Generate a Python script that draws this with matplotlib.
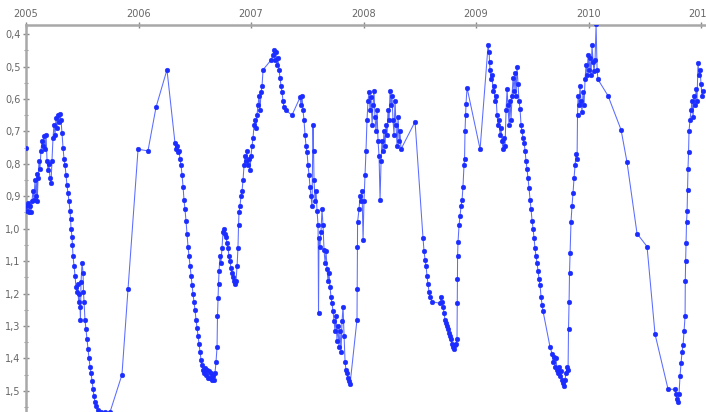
import matplotlib
matplotlib.use("Agg")
import matplotlib.pyplot as plt
import numpy as np
from matplotlib.ticker import FixedLocator, FuncFormatter, MultipleLocator

# decimal years and values
years = [
    2005.000, 2005.003, 2005.009, 2005.018, 2005.027, 2005.036, 2005.044, 2005.053, 2005.062, 2005.071,
    2005.080, 2005.089, 2005.098, 2005.100, 2005.107, 2005.116, 2005.124, 2005.133, 2005.142, 2005.151,
    2005.160, 2005.169, 2005.178, 2005.187, 2005.196, 2005.204, 2005.213, 2005.222, 2005.231, 2005.240,
    2005.249, 2005.258, 2005.267, 2005.276, 2005.284, 2005.293, 2005.302, 2005.311, 2005.320, 2005.329,
    2005.338, 2005.347, 2005.356, 2005.364, 2005.373, 2005.382, 2005.391, 2005.396, 2005.400, 2005.409,
    2005.413, 2005.418, 2005.427, 2005.436, 2005.444, 2005.453, 2005.462, 2005.467, 2005.471, 2005.480,
    2005.484, 2005.489, 2005.498, 2005.507, 2005.511, 2005.516, 2005.524, 2005.533, 2005.542, 2005.551,
    2005.560, 2005.569, 2005.578, 2005.587, 2005.596, 2005.604, 2005.613, 2005.622, 2005.640, 2005.667,
    2005.702, 2005.747, 2005.853, 2005.907, 2005.996, 2006.084, 2006.156, 2006.253,
    2006.324, 2006.333, 2006.342, 2006.351, 2006.360, 2006.369, 2006.378, 2006.387, 2006.396, 2006.404,
    2006.413, 2006.422, 2006.431, 2006.440, 2006.449, 2006.458, 2006.467, 2006.476, 2006.484, 2006.493,
    2006.502, 2006.511, 2006.520, 2006.529, 2006.538, 2006.547, 2006.556, 2006.564, 2006.573, 2006.582,
    2006.591, 2006.600, 2006.609, 2006.618, 2006.627, 2006.636, 2006.644, 2006.653, 2006.662, 2006.671,
    2006.680, 2006.689, 2006.698, 2006.702, 2006.707, 2006.711, 2006.716, 2006.724, 2006.733, 2006.742,
    2006.751, 2006.760, 2006.769, 2006.778, 2006.787, 2006.796, 2006.804, 2006.813, 2006.822, 2006.831,
    2006.840, 2006.849, 2006.858, 2006.867, 2006.876, 2006.884, 2006.889, 2006.893, 2006.902, 2006.911,
    2006.920, 2006.929, 2006.938, 2006.947, 2006.956, 2006.964, 2006.973, 2006.982, 2006.991,
    2007.000, 2007.009, 2007.018, 2007.027, 2007.036, 2007.044, 2007.053, 2007.062, 2007.071, 2007.080,
    2007.089, 2007.098, 2007.107, 2007.178, 2007.196, 2007.204, 2007.213, 2007.222, 2007.231, 2007.240,
    2007.249, 2007.258, 2007.267, 2007.276, 2007.284, 2007.293, 2007.311, 2007.364, 2007.436, 2007.444,
    2007.453, 2007.462, 2007.471, 2007.480, 2007.489, 2007.498, 2007.507, 2007.516, 2007.524, 2007.533,
    2007.542, 2007.551, 2007.556, 2007.560, 2007.569, 2007.578, 2007.587, 2007.596, 2007.600, 2007.604,
    2007.613, 2007.622, 2007.631, 2007.640, 2007.649, 2007.658, 2007.667, 2007.676, 2007.684, 2007.693,
    2007.702, 2007.711, 2007.720, 2007.729, 2007.738, 2007.747, 2007.756, 2007.764, 2007.773, 2007.782,
    2007.791, 2007.800, 2007.809, 2007.818, 2007.827, 2007.836, 2007.844, 2007.853, 2007.862, 2007.871,
    2007.880, 2007.942, 2007.944, 2007.946, 2007.947, 2007.960, 2007.969, 2007.978, 2007.987, 2007.996,
    2008.004, 2008.013, 2008.022, 2008.031, 2008.040, 2008.049, 2008.058, 2008.067, 2008.076, 2008.084,
    2008.093, 2008.102, 2008.111, 2008.120, 2008.129, 2008.138, 2008.147, 2008.156, 2008.164, 2008.173,
    2008.182, 2008.191, 2008.200, 2008.209, 2008.218, 2008.227, 2008.236, 2008.244, 2008.253, 2008.262,
    2008.271, 2008.280, 2008.289, 2008.298, 2008.307, 2008.316, 2008.324, 2008.333, 2008.458,
    2008.529, 2008.538, 2008.547, 2008.556, 2008.564, 2008.573, 2008.582, 2008.591, 2008.609, 2008.680,
    2008.689, 2008.698, 2008.707, 2008.716, 2008.724, 2008.733, 2008.742, 2008.751, 2008.760, 2008.769,
    2008.778, 2008.787, 2008.796, 2008.804, 2008.813, 2008.822, 2008.831, 2008.833, 2008.835, 2008.836,
    2008.840, 2008.849, 2008.858, 2008.867, 2008.876, 2008.884, 2008.893, 2008.898, 2008.902, 2008.907,
    2008.911, 2008.920, 2009.036, 2009.107, 2009.116, 2009.120, 2009.124, 2009.133, 2009.142, 2009.151,
    2009.160, 2009.169, 2009.178, 2009.187, 2009.196, 2009.204, 2009.213, 2009.222, 2009.231, 2009.240,
    2009.249, 2009.258, 2009.267, 2009.276, 2009.284, 2009.293, 2009.302, 2009.311, 2009.320, 2009.329,
    2009.338, 2009.347, 2009.356, 2009.364, 2009.373, 2009.382, 2009.391, 2009.400, 2009.409, 2009.418,
    2009.427, 2009.436, 2009.444, 2009.453, 2009.462, 2009.471, 2009.480, 2009.489, 2009.498, 2009.507,
    2009.516, 2009.524, 2009.533, 2009.542, 2009.551, 2009.560, 2009.569, 2009.578, 2009.587, 2009.596,
    2009.658, 2009.676, 2009.684, 2009.693, 2009.702, 2009.711, 2009.720, 2009.729, 2009.738, 2009.747,
    2009.756, 2009.764, 2009.773, 2009.782, 2009.791, 2009.800, 2009.809, 2009.818, 2009.822, 2009.827,
    2009.831, 2009.836, 2009.844, 2009.853, 2009.862, 2009.871, 2009.880, 2009.889, 2009.898, 2009.902,
    2009.907, 2009.916, 2009.924, 2009.933, 2009.942, 2009.951, 2009.960, 2009.969, 2009.978, 2009.987,
    2009.996, 2010.004, 2010.013, 2010.022, 2010.031, 2010.040, 2010.049, 2010.058, 2010.067, 2010.076,
    2010.084, 2010.173, 2010.289, 2010.342, 2010.431, 2010.520, 2010.591, 2010.707, 2010.769, 2010.778,
    2010.787, 2010.796, 2010.804, 2010.813, 2010.822, 2010.831, 2010.840, 2010.849, 2010.858, 2010.860,
    2010.863, 2010.867, 2010.871, 2010.876, 2010.880, 2010.884, 2010.889, 2010.893, 2010.902, 2010.911,
    2010.920, 2010.929, 2010.938, 2010.947, 2010.956, 2010.964, 2010.973, 2010.982, 2010.991, 2011.000,
    2011.009, 2011.018,
]
values = [
    0.75, 0.93, 0.945, 0.92, 0.95, 0.93, 0.95, 0.915, 0.885, 0.91,
    0.85, 0.90, 0.83, 0.915, 0.845, 0.79, 0.815, 0.76, 0.73, 0.745,
    0.715, 0.755, 0.71, 0.79, 0.82, 0.80, 0.845, 0.86, 0.79, 0.72,
    0.68, 0.71, 0.66, 0.69, 0.65, 0.67, 0.645, 0.665, 0.705, 0.75,
    0.785, 0.805, 0.835, 0.865, 0.89, 0.915, 0.945, 0.97, 1.00, 1.025,
    1.05, 1.085, 1.115, 1.145, 1.18, 1.195, 1.17, 1.225, 1.20, 1.24,
    1.28, 1.165, 1.105, 1.135, 1.195, 1.225, 1.28, 1.31, 1.34, 1.37,
    1.40, 1.425, 1.445, 1.47, 1.495, 1.515, 1.535, 1.545, 1.56, 1.565,
    1.565, 1.565, 1.45, 1.185, 0.755, 0.76, 0.625, 0.51,
    0.735, 0.755, 0.745, 0.765, 0.76, 0.785, 0.805, 0.835, 0.87, 0.91,
    0.94, 0.975, 1.015, 1.055, 1.085, 1.115, 1.145, 1.175, 1.20, 1.225,
    1.25, 1.28, 1.305, 1.33, 1.355, 1.38, 1.405, 1.42, 1.435, 1.445,
    1.43, 1.45, 1.435, 1.46, 1.44, 1.46, 1.445, 1.465, 1.455, 1.465,
    1.445, 1.41, 1.365, 1.27, 1.215, 1.17, 1.13, 1.085, 1.105, 1.06,
    1.01, 1.00, 1.015, 1.025, 1.045, 1.06, 1.085, 1.10, 1.12, 1.135,
    1.15, 1.16, 1.17, 1.16, 1.115, 1.06, 0.99, 0.95, 0.93, 0.90,
    0.885, 0.85, 0.805, 0.775, 0.79, 0.76, 0.805, 0.785, 0.82,
    0.775, 0.745, 0.72, 0.68, 0.665, 0.69, 0.65, 0.62, 0.59, 0.635,
    0.58, 0.56, 0.51, 0.48, 0.465, 0.45, 0.48, 0.455, 0.495, 0.475,
    0.51, 0.535, 0.56, 0.58, 0.605, 0.625, 0.635, 0.65, 0.595, 0.62,
    0.59, 0.635, 0.665, 0.71, 0.745, 0.765, 0.805, 0.835, 0.87, 0.90,
    0.93, 0.68, 0.76, 0.85, 0.915, 0.885, 0.945, 0.99, 1.26, 1.03,
    1.055, 1.01, 0.94, 0.99, 1.065, 1.105, 1.07, 1.125, 1.16, 1.135,
    1.18, 1.21, 1.23, 1.255, 1.285, 1.315, 1.27, 1.345, 1.30, 1.365,
    1.315, 1.38, 1.285, 1.24, 1.33, 1.41, 1.435, 1.445, 1.46, 1.47,
    1.48, 1.28, 1.185, 1.055, 0.98, 0.94, 0.90, 0.915, 0.885, 1.035,
    0.915, 0.835, 0.76, 0.665, 0.605, 0.58, 0.635, 0.595, 0.68, 0.62,
    0.575, 0.655, 0.70, 0.635, 0.73, 0.775, 0.91, 0.79, 0.73, 0.76,
    0.70, 0.745, 0.68, 0.71, 0.635, 0.665, 0.575, 0.62, 0.59, 0.665,
    0.71, 0.605, 0.68, 0.745, 0.655, 0.73, 0.70, 0.755, 0.67,
    1.03, 1.07, 1.095, 1.115, 1.145, 1.17, 1.195, 1.21, 1.225, 1.23,
    1.21, 1.225, 1.24, 1.26, 1.28, 1.29, 1.30, 1.31, 1.32, 1.33,
    1.34, 1.355, 1.365, 1.37, 1.36, 1.355, 1.34, 1.23, 1.155, 1.085,
    1.04, 0.99, 0.96, 0.93, 0.91, 0.87, 0.805, 0.785, 0.70, 0.65,
    0.615, 0.565, 0.755, 0.435, 0.455, 0.485, 0.51, 0.54, 0.525, 0.575,
    0.56, 0.605, 0.59, 0.65, 0.68, 0.665, 0.71, 0.69, 0.73, 0.755,
    0.72, 0.745, 0.635, 0.57, 0.62, 0.68, 0.605, 0.665, 0.59, 0.535,
    0.575, 0.52, 0.59, 0.50, 0.555, 0.605, 0.63, 0.68, 0.70, 0.72,
    0.735, 0.76, 0.79, 0.815, 0.845, 0.875, 0.91, 0.94, 0.975, 1.00,
    1.03, 1.06, 1.085, 1.105, 1.13, 1.155, 1.175, 1.21, 1.235, 1.255,
    1.365, 1.385, 1.41, 1.395, 1.425, 1.40, 1.435, 1.445, 1.425, 1.455,
    1.44, 1.465, 1.475, 1.485, 1.465, 1.445, 1.425, 1.435, 1.31, 1.225,
    1.135, 1.075, 0.98, 0.93, 0.89, 0.845, 0.805, 0.77, 0.785, 0.65,
    0.59, 0.62, 0.56, 0.605, 0.64, 0.58, 0.62, 0.54, 0.495, 0.525,
    0.465, 0.51, 0.475, 0.525, 0.435, 0.485, 0.515, 0.48, 0.37, 0.51,
    0.54, 0.59, 0.695, 0.795, 1.015, 1.055, 1.325, 1.495, 1.495, 1.51,
    1.525, 1.535, 1.51, 1.455, 1.415, 1.38, 1.36, 1.315, 1.27, 1.16,
    1.10, 1.045, 0.98, 0.945, 0.88, 0.815, 0.765, 0.70, 0.665, 0.635,
    0.605, 0.655, 0.59, 0.62, 0.57, 0.605, 0.49, 0.525, 0.51, 0.555,
    0.59, 0.575,
]
year_ticks = [2005, 2006, 2007, 2008, 2009, 2010, 2011]

fig = plt.figure(figsize=(7.06, 4.12), dpi=100)
ax = fig.add_axes([26 / 706, 0.0, 680 / 706, 1 - 25 / 412])

# line is drawn thin and pale, markers solid
ax.plot(years, values, color="#5a6cff", lw=0.75, zorder=2)
ax.plot(years, values, ls="none", marker="o", ms=3.4,
        mfc="#1a2cff", mec="#1a2cff", mew=0.3, zorder=3)

ax.set_xlim(2005, 2011.044)
ax.set_ylim(1.565, 0.372)

ax.xaxis.tick_top()
ax.xaxis.set_major_locator(FixedLocator(year_ticks))
ax.xaxis.set_major_formatter(FuncFormatter(lambda v, p: "%d" % round(v)))
ax.yaxis.set_major_locator(MultipleLocator(0.1))
ax.yaxis.set_minor_locator(MultipleLocator(0.05))
ax.yaxis.set_major_formatter(FuncFormatter(lambda v, p: ("%.1f" % v).replace(".", ",")))

for s in ["right", "bottom"]:
    ax.spines[s].set_visible(False)
for s in ["top", "left"]:
    ax.spines[s].set_color("#a8a8a8")
    ax.spines[s].set_linewidth(1.8)

ax.tick_params(axis="both", which="major", direction="inout", length=4, width=1,
               color="#888888", labelcolor="#666666", labelsize=7, pad=2)
ax.tick_params(axis="y", which="minor", direction="inout", length=3, width=0.8,
               color="#999999")

fig.savefig("out.png", dpi=100)
